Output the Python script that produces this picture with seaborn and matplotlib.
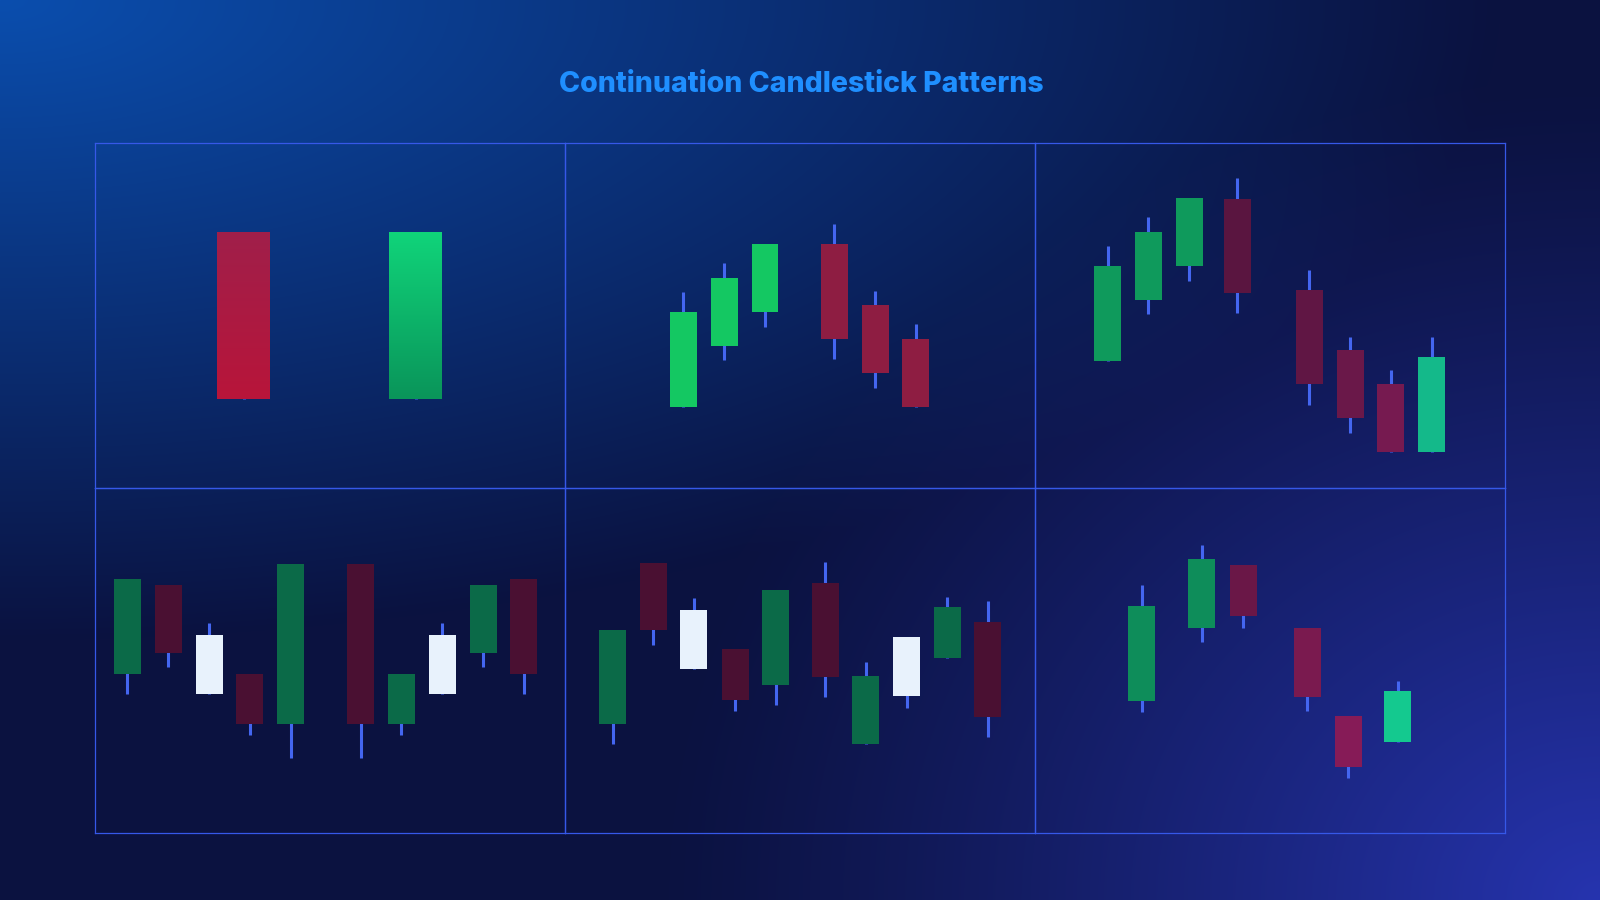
import numpy as np
import pandas as pd
import matplotlib
matplotlib.use("Agg")
import matplotlib.pyplot as plt
import seaborn as sns

sns.set_theme(style="white")
plt.rcParams['font.family'] = ['Inter', 'DejaVu Sans']

TITLE = "Continuation Candlestick Patterns"

# ---------------- data (time position, OHLC) ----------------
# Panel 1
p1_x = [3.64, 7.84]
p1_open = [74.3, 25.7]
p1_high = [74.3, 74.3]
p1_low = [25.7, 25.7]
p1_close = [25.7, 74.3]

# Panel 2
p2_x = [2.89, 3.89, 4.89, 6.58, 7.59, 8.58]
p2_open = [23.4, 41.2, 50.9, 70.7, 53.0, 43.3]
p2_high = [56.9, 65.1, 70.7, 76.5, 57.2, 47.4]
p2_low = [23.4, 37.1, 46.8, 37.3, 29.1, 23.4]
p2_close = [51.1, 61.0, 70.7, 43.1, 33.2, 23.4]

# Panel 3
p3_x = [1.78, 2.77, 3.77, 4.95, 6.71, 7.71, 8.70, 9.70]
p3_open = [36.8, 54.5, 64.3, 83.9, 57.5, 39.9, 30.1, 10.3]
p3_high = [70.2, 78.5, 84.0, 89.8, 63.2, 43.9, 34.2, 43.9]
p3_low = [36.8, 50.3, 60.1, 50.6, 24.1, 16.0, 10.3, 10.3]
p3_close = [64.4, 74.2, 84.0, 56.4, 30.1, 20.2, 10.3, 38.0]

# Panel 4
p4_x = [0.79, 1.79, 2.79, 3.78, 4.78, 6.50, 7.49, 8.49, 9.49, 10.48]
p4_open = [46.1, 71.8, 40.2, 46.1, 31.6, 78.0, 31.6, 40.2, 52.2, 73.5]
p4_high = [73.5, 71.8, 60.8, 46.1, 78.0, 78.0, 46.1, 60.8, 71.8, 73.5]
p4_low = [40.2, 48.0, 40.2, 28.4, 21.7, 21.7, 28.4, 40.2, 48.0, 40.2]
p4_close = [73.5, 52.2, 57.3, 31.6, 78.0, 31.6, 46.1, 57.3, 71.8, 46.1]

# Panel 5
p5_x = [1.17, 2.16, 3.15, 4.16, 5.15, 6.36, 7.35, 8.35, 9.35, 10.34]
p5_open = [31.5, 78.3, 47.4, 53.2, 42.8, 72.6, 25.7, 39.6, 50.8, 61.2]
p5_high = [58.9, 78.3, 68.0, 53.2, 70.3, 78.5, 49.7, 56.7, 68.5, 67.2]
p5_low = [25.7, 54.5, 47.4, 35.4, 37.1, 39.3, 25.7, 36.1, 50.8, 27.9]
p5_close = [58.9, 58.8, 64.5, 38.6, 70.3, 45.2, 45.4, 56.7, 65.4, 33.7]

# Panel 6
p6_x = [2.61, 4.08, 5.09, 6.66, 7.66, 8.87]
p6_open = [38.3, 59.5, 77.6, 59.3, 34.0, 26.3]
p6_high = [71.8, 83.5, 77.6, 59.3, 34.0, 44.1]
p6_low = [35.2, 55.4, 59.5, 35.5, 16.0, 26.3]
p6_close = [65.9, 79.3, 62.8, 39.5, 19.2, 41.1]

# ---------------- styles ----------------
p1_top = ['#a01f4a', '#10d47a']
p1_bot = ['#b8153a', '#0a955a']
p2_col = ['#14c862', '#14c862', '#14c862', '#8e1d42', '#8e1d42', '#8e1d42']
p3_col = ['#0f9a5c', '#0f9a5c', '#0f9a5c', '#5a1540', '#601644', '#6a1849', '#761a50', '#14b98a']
G4, R4, W4 = '#0b6a48', '#4a1032', '#e8f2fc'
p4_col = [G4, R4, W4, R4, G4, R4, G4, W4, G4, R4]
p5_col = [G4, R4, W4, R4, G4, R4, G4, W4, G4, R4]
p6_col = ['#0e8d5a', '#0e8d5a', '#6a1747', '#7a1a4f', '#861b57', '#14c98f']

panels = [
    (p1_x, p1_open, p1_high, p1_low, p1_close, p1_top, p1_bot, 1.29),
    (p2_x, p2_open, p2_high, p2_low, p2_close, p2_col, p2_col, 0.66),
    (p3_x, p3_open, p3_high, p3_low, p3_close, p3_col, p3_col, 0.66),
    (p4_x, p4_open, p4_high, p4_low, p4_close, p4_col, p4_col, 0.66),
    (p5_x, p5_open, p5_high, p5_low, p5_close, p5_col, p5_col, 0.66),
    (p6_x, p6_open, p6_high, p6_low, p6_close, p6_col, p6_col, 0.66),
]

frames = []
for i, (x, o, h, l, c, ct, cb, w) in enumerate(panels):
    frames.append(pd.DataFrame({"panel": i + 1, "x": x, "open": o, "high": h,
                                "low": l, "close": c, "ctop": ct, "cbot": cb,
                                "width": w}))
df = pd.concat(frames, ignore_index=True)

WICK = '#4466f0'
BORDER = '#3658e8'


def draw_candles(data, **kws):
    ax = plt.gca()
    ax.set_facecolor('none')
    ax.vlines(data["x"], data["low"], data["high"], color=WICK, lw=2.2, zorder=2)
    for _, r in data.iterrows():
        lo = min(r["open"], r["close"])
        hi = max(r["open"], r["close"])
        bars = ax.bar(r["x"], hi - lo, bottom=lo, width=r["width"], color=r["ctop"],
                      linewidth=0, zorder=3)
        if r["ctop"] != r["cbot"]:
            c1 = np.array(matplotlib.colors.to_rgb(r["ctop"]))
            c2 = np.array(matplotlib.colors.to_rgb(r["cbot"]))
            t = np.linspace(0, 1, 64)[:, None]
            grad = (c1 * (1 - t) + c2 * t)[:, None, :]
            im = ax.imshow(grad, extent=(r["x"] - r["width"] / 2, r["x"] + r["width"] / 2, lo, hi),
                           aspect='auto', zorder=4, interpolation='bicubic')
            im.set_clip_path(bars.patches[0])


g = sns.FacetGrid(df, col="panel", col_wrap=3, height=3.45, aspect=470 / 345,
                  despine=False, sharex=True, sharey=True)
g.map_dataframe(draw_candles)
g.set_titles("")
g.set(xlabel="", ylabel="", xticks=[], yticks=[])

fig = g.figure
fig.set_size_inches(16, 9)
fig.set_dpi(100)
fig.subplots_adjust(left=95 / 1600, right=1505 / 1600, top=1 - 143 / 900,
                    bottom=1 - 833 / 900, wspace=0, hspace=0)
for ax in g.axes.flat:
    ax.set_xlim(0, 470 / 40.9)
    ax.set_ylim(0, 100)
    ax.set_facecolor('none')
    for s in ax.spines.values():
        s.set_color(BORDER)
        s.set_linewidth(0.9)
        s.set_visible(True)

# background gradient
H, W = 900, 1600
yy, xx = np.mgrid[0:H, 0:W].astype(float)
base = np.array([11, 18, 64]) / 255
c1 = np.array([10, 78, 174]) / 255
c2 = np.array([38, 52, 175]) / 255
d1 = np.sqrt((xx / 1500) ** 2 + (yy / 640) ** 2)
w1 = np.clip(1 - d1, 0, 1) ** 1.0
d2 = np.sqrt(((W - xx) / 950) ** 2 + ((H - yy) / 820) ** 2)
w2 = np.clip(1 - d2, 0, 1) ** 1.2
img = base[None, None, :] + w1[..., None] * (c1 - base) + w2[..., None] * (c2 - base)
img = np.clip(img, 0, 1)
bg = fig.add_axes([0, 0, 1, 1], zorder=-10)
bg.imshow(img, aspect='auto', extent=(0, 1, 0, 1), interpolation='bilinear')
bg.set_axis_off()
fig.patch.set_facecolor('#0b1240')

fig.text(801 / 1600, 1 - 91.5 / 900, TITLE, ha='center', va='baseline',
         fontsize=20.5, fontweight='heavy', color='#1f8fff')

fig.savefig("out.png", dpi=100)
